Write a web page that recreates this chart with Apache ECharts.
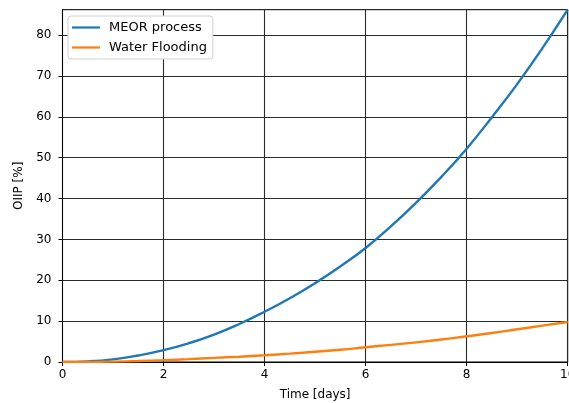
<!DOCTYPE html>
<html>
<head>
<meta charset="utf-8">
<script src="https://cdn.jsdelivr.net/npm/echarts@6/dist/echarts.min.js"></script>
<style>
  html, body { margin: 0; padding: 0; background: #fff; }
  #chart { width: 569px; height: 403px; }
</style>
</head>
<body>
<div id="chart"></div>
<script>
// Time axis samples (days)
const days = [0, 0.5, 1, 1.5, 2, 2.5, 3, 3.5, 4, 4.5, 5, 5.5, 6, 6.5, 7, 7.5, 8, 8.5, 9, 9.5, 10];
// Recovered oil, % of OIIP
const meorProcess = [0, 0.15, 0.65, 1.6, 2.9, 4.6, 6.7, 9.3, 12.3, 15.6, 19.3, 23.4, 27.9, 33.2, 39.0, 45.3, 52.2, 59.9, 68.0, 76.8, 86.2];
const waterFlooding = [0, 0.02, 0.1, 0.25, 0.45, 0.7, 1.0, 1.3, 1.65, 2.05, 2.5, 3.0, 3.6, 4.2, 4.8, 5.5, 6.3, 7.1, 8.0, 8.9, 9.8];
const seriesNames = ['MEOR process', 'Water Flooding'];
const xTicks = [0, 2, 4, 6, 8, 10];
const yTicks = [0, 10, 20, 30, 40, 50, 60, 70, 80];
const yTop = 86.2;

const font = 'DejaVu Sans';
const pair = (xs, ys) => xs.map((x, i) => [x, ys[i]]);
// plain line used as the legend key
const lineKey = 'path://M0 0H28V2.2H0Z';

const chart = echarts.init(document.getElementById('chart'), null, { renderer: 'canvas' });
chart.setOption({
  animation: false,
  textStyle: { fontFamily: font },
  grid: {
    left: 62.5, right: 1.3, top: 9.7, bottom: 41,
    outerBoundsMode: 'none', containLabel: false,
    show: true, borderColor: '#000', borderWidth: 1, backgroundColor: 'transparent'
  },
  legend: {
    orient: 'vertical',
    left: 68, top: 16,
    padding: [5, 6, 5, 4],
    itemWidth: 28, itemHeight: 14, itemGap: 7,
    backgroundColor: '#fff',
    borderColor: '#d0d0d0', borderWidth: 1, borderRadius: 3,
    textStyle: { fontFamily: font, fontSize: 13, color: '#000', padding: [0, 0, 0, 4] },
    data: [
      { name: seriesNames[0], icon: lineKey, itemStyle: { color: '#1f77b4' } },
      { name: seriesNames[1], icon: lineKey, itemStyle: { color: '#ff7f0e' } }
    ]
  },
  xAxis: {
    type: 'value',
    min: xTicks[0], max: xTicks[xTicks.length - 1], interval: xTicks[1] - xTicks[0],
    name: 'Time [days]', nameLocation: 'middle', nameGap: 27,
    nameTextStyle: { fontFamily: font, fontSize: 12, color: '#000' },
    axisLine: { show: true, onZero: false, lineStyle: { color: '#000', width: 1 } },
    axisTick: { show: true, length: 4, inside: false, lineStyle: { color: '#000' } },
    axisLabel: { fontFamily: font, fontSize: 12, color: '#000', margin: 7, showMaxLabel: true },
    splitLine: { show: true, lineStyle: { color: '#2a2a2a', width: 1.1 } }
  },
  yAxis: {
    type: 'value',
    min: yTicks[0], max: yTop, interval: yTicks[1] - yTicks[0],
    name: 'OIIP [%]', nameLocation: 'middle', nameGap: 37,
    nameTextStyle: { fontFamily: font, fontSize: 12, color: '#000' },
    axisLine: { show: true, onZero: false, lineStyle: { color: '#000', width: 1 } },
    axisTick: { show: true, length: 4, lineStyle: { color: '#000' } },
    axisLabel: {
      fontFamily: font, fontSize: 12, color: '#000', margin: 11, showMaxLabel: false,
      formatter: v => (yTicks.includes(v) ? String(v) : '')
    },
    splitLine: { show: true, lineStyle: { color: '#2a2a2a', width: 1.1 } }
  },
  series: [
    {
      name: seriesNames[0], type: 'line', data: pair(days, meorProcess),
      smooth: true, symbol: 'none', z: 3,
      lineStyle: { color: '#1f77b4', width: 2.4 }, itemStyle: { color: '#1f77b4' }
    },
    {
      name: seriesNames[1], type: 'line', data: pair(days, waterFlooding),
      smooth: true, symbol: 'none', z: 4,
      lineStyle: { color: '#ff7f0e', width: 2.4 }, itemStyle: { color: '#ff7f0e' }
    }
  ]
});
</script>
</body>
</html>
